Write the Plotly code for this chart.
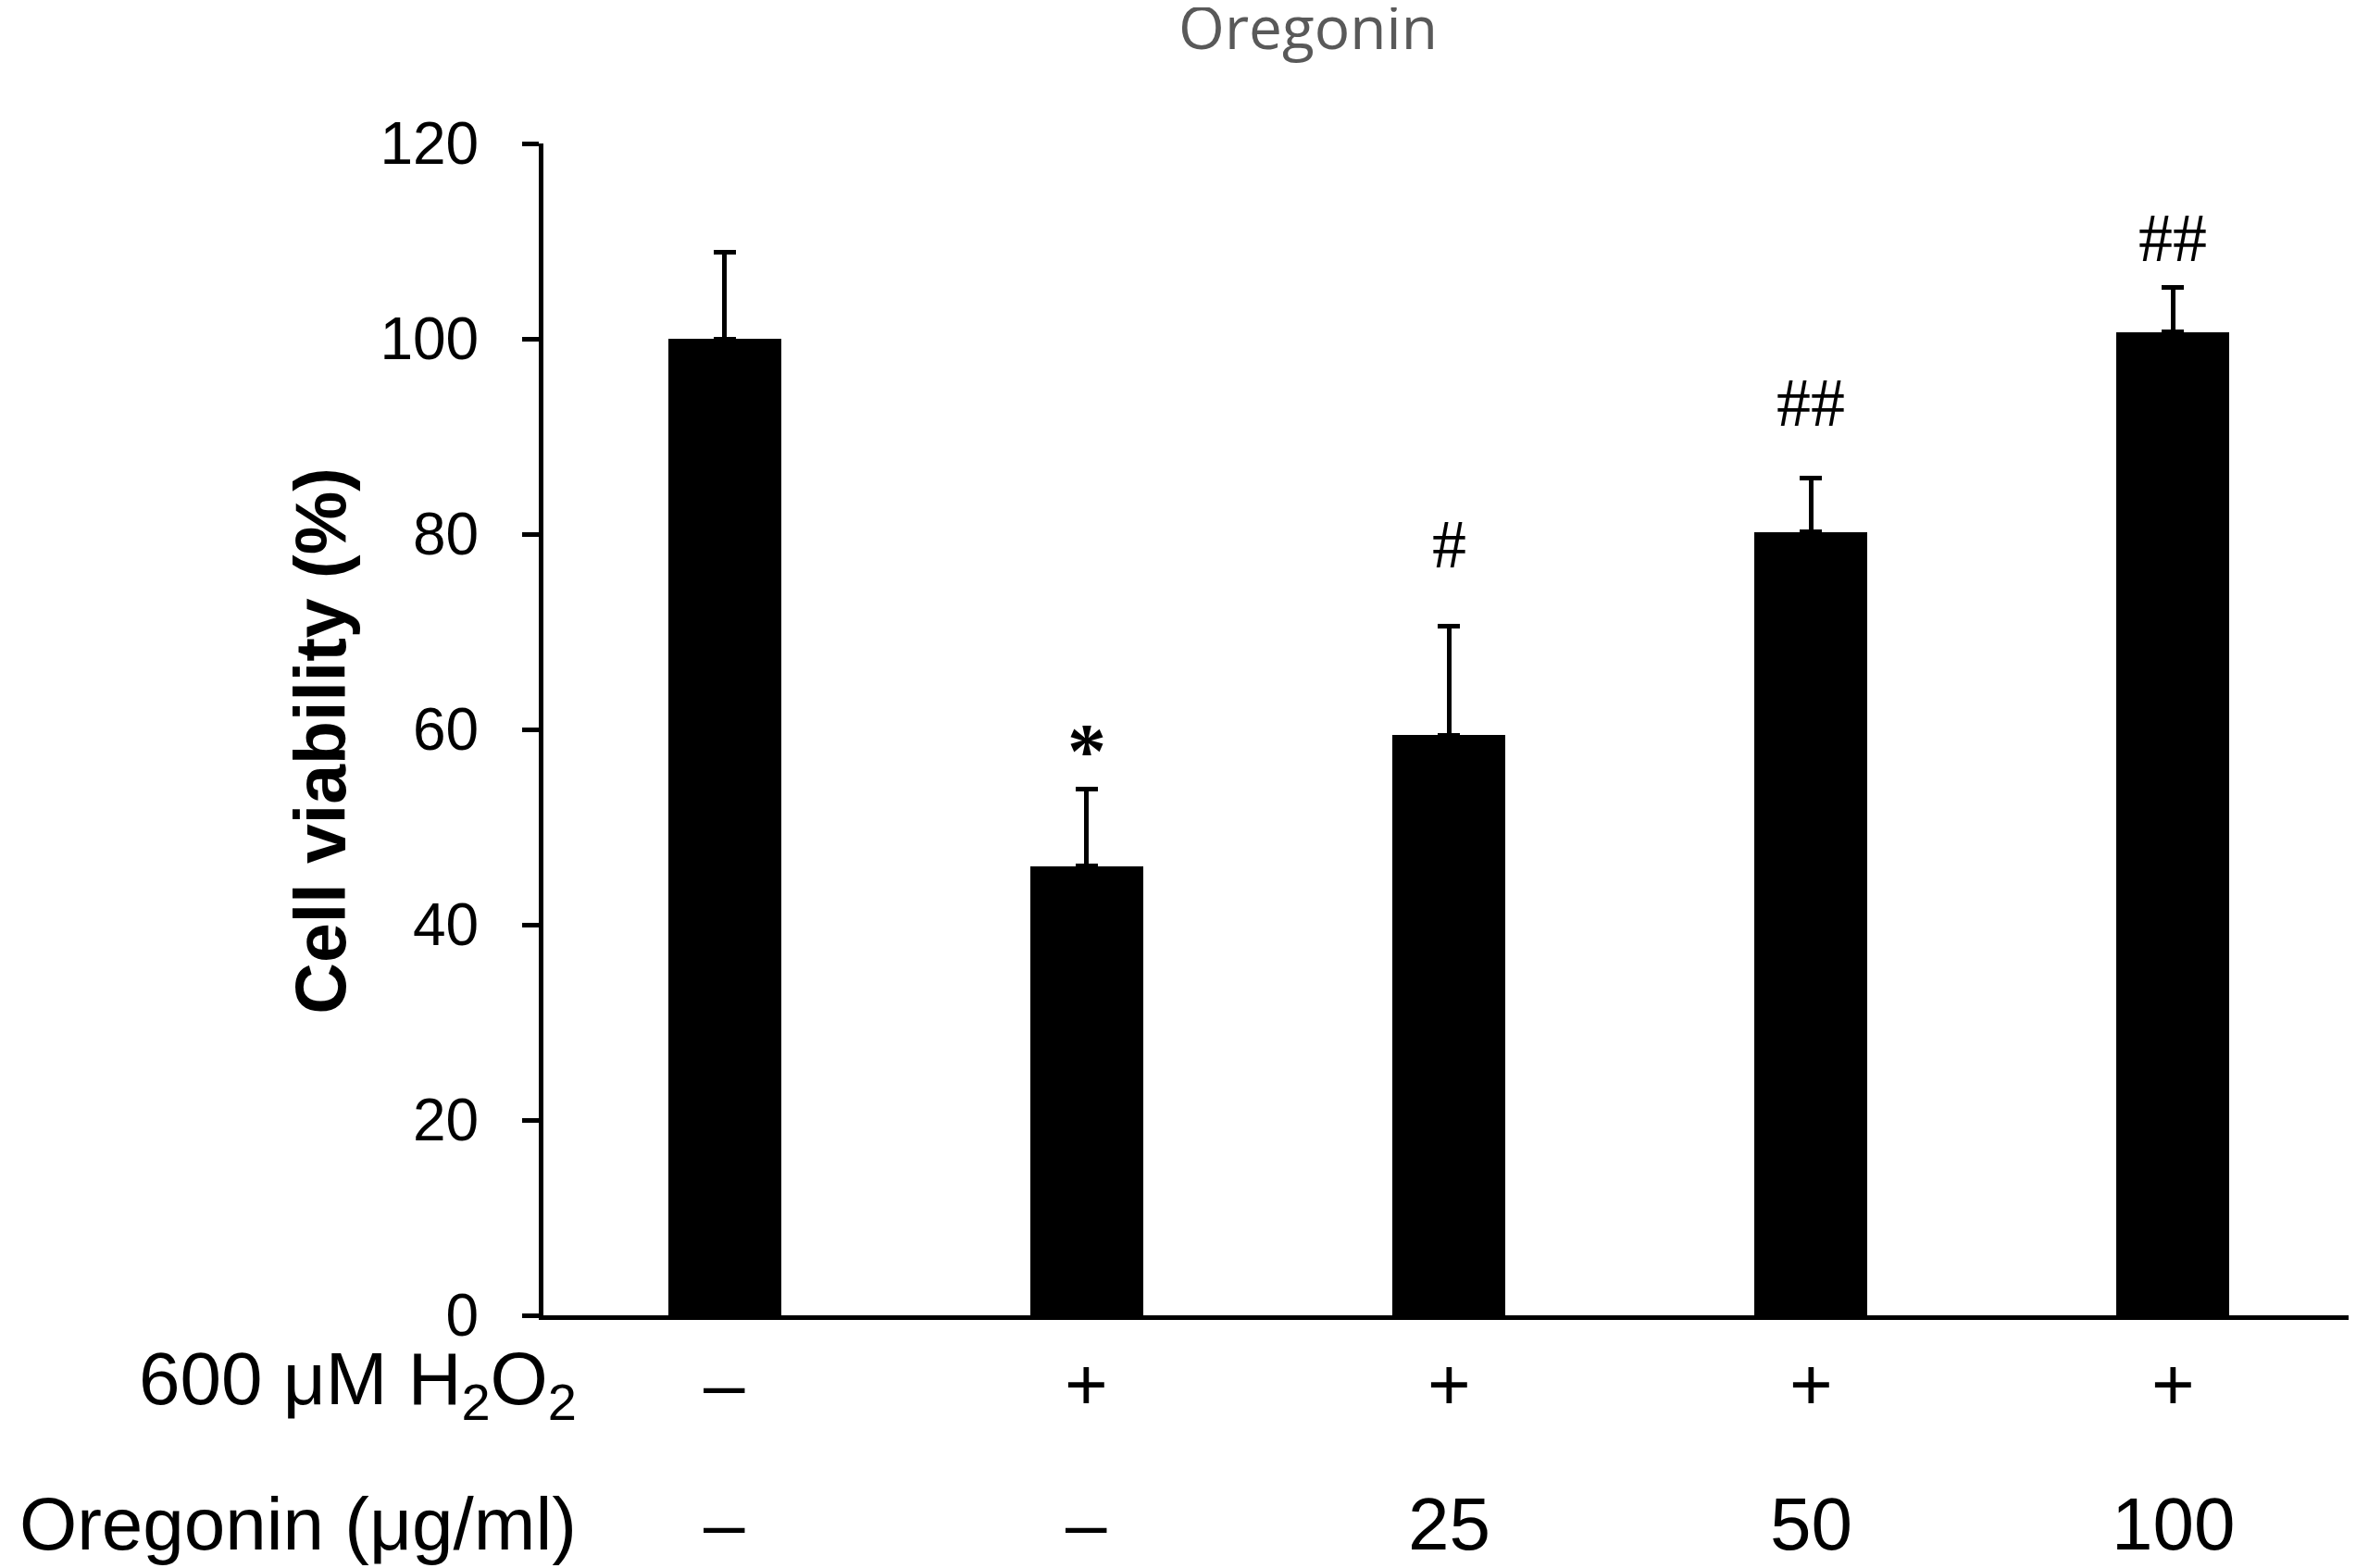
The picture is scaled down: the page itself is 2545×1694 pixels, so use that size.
import plotly.graph_objects as go

groups = ["Control", "H2O2", "H2O2 + Oregonin 25", "H2O2 + Oregonin 50", "H2O2 + Oregonin 100"]
viability = [100.0, 46.0, 59.4, 80.2, 100.7]
err_up = [8.9, 7.9, 11.2, 5.5, 4.6]
sig_labels = ["", "*", "#", "##", "##"]
sig_y = [None, 57.8, 79.0, 93.5, 110.3]
h2o2_row = ["\u2013", "+", "+", "+", "+"]
oregonin_row = ["\u2013", "\u2013", "25", "50", "100"]
y_ticks = [0, 20, 40, 60, 80, 100, 120]

W, H = 2545, 1694
left, right, top, bottom = 579, 10, 147, 281
plot_h = H - top - bottom
x_idx = list(range(len(groups)))

fig = go.Figure()
fig.add_trace(go.Bar(
    x=x_idx, y=viability, width=0.312,
    marker=dict(color="black", line=dict(width=0)),
    error_y=dict(type="data", symmetric=False, array=err_up,
                 arrayminus=[0] * len(err_up), color="black",
                 thickness=5, width=12),
    showlegend=False,
))

ann = []
for i, (lab, yy) in enumerate(zip(sig_labels, sig_y)):
    if lab:
        star = lab == "*"
        ann.append(dict(x=i, y=yy, xref="x", yref="y",
                        text="<b>*</b>" if star else lab, showarrow=False,
                        yanchor="middle",
                        font=dict(family="Liberation Serif", size=84 if star else 74,
                                  color="black")))

row_font = dict(family="Liberation Sans", size=80, color="black")
row1_y = (-(1487 - (H - bottom))) / plot_h
row2_y = (-(1638 - (H - bottom))) / plot_h
for i, (a, b) in enumerate(zip(h2o2_row, oregonin_row)):
    ann.append(dict(x=i, y=row1_y, xref="x", yref="paper", text=a, showarrow=False,
                    yanchor="middle", font=row_font))
    ann.append(dict(x=i, y=row2_y, xref="x", yref="paper", text=b, showarrow=False,
                    yanchor="middle", font=row_font))

lab_x = (617 - left) / (W - left - right)
ann.append(dict(x=lab_x, y=row1_y, xref="paper", yref="paper", xanchor="right",
                yanchor="middle", showarrow=False,
                text="600 \u03bcM H<sub>2</sub>O<sub>2</sub>", font=row_font))
ann.append(dict(x=lab_x, y=row2_y, xref="paper", yref="paper", xanchor="right",
                yanchor="middle", showarrow=False,
                text="Oregonin (\u03bcg/ml)", font=row_font))

# rotated y-axis title
ann.append(dict(x=(338 - left) / (W - left - right), y=0.49, xref="paper", yref="paper",
                text="<b>Cell viability (%)</b>", textangle=-90, showarrow=False,
                xanchor="center", yanchor="middle",
                font=dict(family="Liberation Sans", size=77, color="black")))

fig.update_layout(
    width=W, height=H,
    margin=dict(l=left, r=right, t=top, b=bottom),
    paper_bgcolor="white", plot_bgcolor="white",
    title=dict(text="Oregonin", x=1405 / W, y=1, xref="container",
               yref="container", xanchor="center", yanchor="top",
               pad=dict(t=0, b=0),
               font=dict(family="Open Sans", size=64, color="#595959")),
    annotations=ann,
    bargap=0,
)
fig.update_xaxes(range=[-0.5, 4.5], showticklabels=False, ticks="",
                 showline=True, linecolor="black", linewidth=5,
                 showgrid=False, zeroline=False)
fig.update_yaxes(range=[0, 120], tickvals=y_ticks, ticks="outside", ticklen=18,
                 tickwidth=5, tickcolor="black", showline=True, linecolor="black",
                 linewidth=5, showgrid=False, zeroline=False, ticklabelstandoff=34,
                 tickfont=dict(family="Liberation Sans", size=64, color="black"))

fig.write_html("out.html")
